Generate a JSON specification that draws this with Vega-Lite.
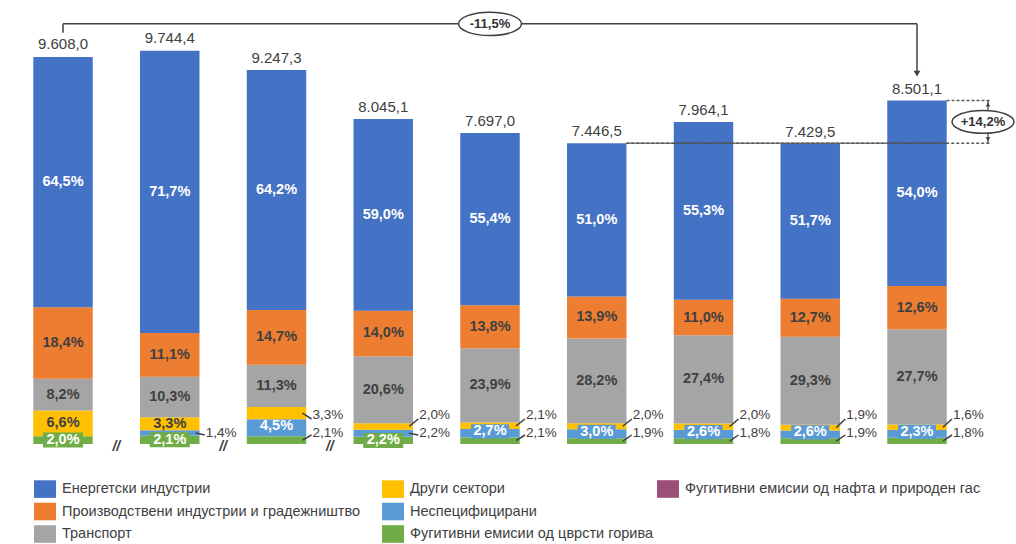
{
  "$schema": "https://vega.github.io/schema/vega-lite/v6.json",
  "width": 960,
  "height": 404,
  "autosize": {"type": "none"},
  "padding": {"left": 10, "top": 40, "right": 46, "bottom": 100},
  "background": "#ffffff",
  "config": {
    "font": "Liberation Sans",
    "view": {"stroke": null},
    "axis": {"title": null, "grid": false},
    "locale": {"number": {"decimal": ",", "thousands": ".", "grouping": [3], "currency": ["", ""]}}
  },
  "datasets": {
    "rows": [
      {"year": "1990", "sector": "Фугитивни емисии од цврсти горива", "value": 192.2, "pct": 0.020},
      {"year": "1990", "sector": "Неспецифицирани", "value": 0, "pct": 0},
      {"year": "1990", "sector": "Други сектори", "value": 634.1, "pct": 0.066},
      {"year": "1990", "sector": "Транспорт", "value": 787.9, "pct": 0.082},
      {"year": "1990", "sector": "Производствени индустрии и градежништво", "value": 1767.9, "pct": 0.184},
      {"year": "1990", "sector": "Енергетски индустрии", "value": 6197.2, "pct": 0.645},
      {"year": "1990", "sector": "Фугитивни емисии од нафта и природен гас", "value": 0, "pct": 0},
      {"year": "2000", "sector": "Фугитивни емисии од цврсти горива", "value": 204.6, "pct": 0.021},
      {"year": "2000", "sector": "Неспецифицирани", "value": 136.4, "pct": 0.014},
      {"year": "2000", "sector": "Други сектори", "value": 321.6, "pct": 0.033},
      {"year": "2000", "sector": "Транспорт", "value": 1003.7, "pct": 0.103},
      {"year": "2000", "sector": "Производствени индустрии и градежништво", "value": 1081.6, "pct": 0.111},
      {"year": "2000", "sector": "Енергетски индустрии", "value": 6986.7, "pct": 0.717},
      {"year": "2000", "sector": "Фугитивни емисии од нафта и природен гас", "value": 0, "pct": 0},
      {"year": "2005", "sector": "Фугитивни емисии од цврсти горива", "value": 194.2, "pct": 0.021},
      {"year": "2005", "sector": "Неспецифицирани", "value": 416.1, "pct": 0.045},
      {"year": "2005", "sector": "Други сектори", "value": 305.2, "pct": 0.033},
      {"year": "2005", "sector": "Транспорт", "value": 1044.9, "pct": 0.113},
      {"year": "2005", "sector": "Производствени индустрии и градежништво", "value": 1359.4, "pct": 0.147},
      {"year": "2005", "sector": "Енергетски индустрии", "value": 5936.8, "pct": 0.642},
      {"year": "2005", "sector": "Фугитивни емисии од нафта и природен гас", "value": 0, "pct": 0},
      {"year": "2014", "sector": "Фугитивни емисии од цврсти горива", "value": 177.0, "pct": 0.022},
      {"year": "2014", "sector": "Неспецифицирани", "value": 177.0, "pct": 0.022},
      {"year": "2014", "sector": "Други сектори", "value": 160.9, "pct": 0.020},
      {"year": "2014", "sector": "Транспорт", "value": 1657.3, "pct": 0.206},
      {"year": "2014", "sector": "Производствени индустрии и градежништво", "value": 1126.3, "pct": 0.140},
      {"year": "2014", "sector": "Енергетски индустрии", "value": 4746.6, "pct": 0.590},
      {"year": "2014", "sector": "Фугитивни емисии од нафта и природен гас", "value": 0, "pct": 0},
      {"year": "2015", "sector": "Фугитивни емисии од цврсти горива", "value": 161.6, "pct": 0.021},
      {"year": "2015", "sector": "Неспецифицирани", "value": 207.8, "pct": 0.027},
      {"year": "2015", "sector": "Други сектори", "value": 161.6, "pct": 0.021},
      {"year": "2015", "sector": "Транспорт", "value": 1839.6, "pct": 0.239},
      {"year": "2015", "sector": "Производствени индустрии и градежништво", "value": 1062.2, "pct": 0.138},
      {"year": "2015", "sector": "Енергетски индустрии", "value": 4264.1, "pct": 0.554},
      {"year": "2015", "sector": "Фугитивни емисии од нафта и природен гас", "value": 0, "pct": 0},
      {"year": "2016", "sector": "Фугитивни емисии од цврсти горива", "value": 141.5, "pct": 0.019},
      {"year": "2016", "sector": "Неспецифицирани", "value": 223.4, "pct": 0.030},
      {"year": "2016", "sector": "Други сектори", "value": 148.9, "pct": 0.020},
      {"year": "2016", "sector": "Транспорт", "value": 2099.9, "pct": 0.282},
      {"year": "2016", "sector": "Производствени индустрии и градежништво", "value": 1035.1, "pct": 0.139},
      {"year": "2016", "sector": "Енергетски индустрии", "value": 3797.7, "pct": 0.510},
      {"year": "2016", "sector": "Фугитивни емисии од нафта и природен гас", "value": 0, "pct": 0},
      {"year": "2017", "sector": "Фугитивни емисии од цврсти горива", "value": 143.4, "pct": 0.018},
      {"year": "2017", "sector": "Неспецифицирани", "value": 207.1, "pct": 0.026},
      {"year": "2017", "sector": "Други сектори", "value": 159.3, "pct": 0.020},
      {"year": "2017", "sector": "Транспорт", "value": 2182.2, "pct": 0.274},
      {"year": "2017", "sector": "Производствени индустрии и градежништво", "value": 876.1, "pct": 0.110},
      {"year": "2017", "sector": "Енергетски индустрии", "value": 4404.1, "pct": 0.553},
      {"year": "2017", "sector": "Фугитивни емисии од нафта и природен гас", "value": 0, "pct": 0},
      {"year": "2018", "sector": "Фугитивни емисии од цврсти горива", "value": 141.2, "pct": 0.019},
      {"year": "2018", "sector": "Неспецифицирани", "value": 193.2, "pct": 0.026},
      {"year": "2018", "sector": "Други сектори", "value": 141.2, "pct": 0.019},
      {"year": "2018", "sector": "Транспорт", "value": 2176.8, "pct": 0.293},
      {"year": "2018", "sector": "Производствени индустрии и градежништво", "value": 943.5, "pct": 0.127},
      {"year": "2018", "sector": "Енергетски индустрии", "value": 3841.0, "pct": 0.517},
      {"year": "2018", "sector": "Фугитивни емисии од нафта и природен гас", "value": 0, "pct": 0},
      {"year": "2019", "sector": "Фугитивни емисии од цврсти горива", "value": 153.0, "pct": 0.018},
      {"year": "2019", "sector": "Неспецифицирани", "value": 195.5, "pct": 0.023},
      {"year": "2019", "sector": "Други сектори", "value": 136.0, "pct": 0.016},
      {"year": "2019", "sector": "Транспорт", "value": 2354.8, "pct": 0.277},
      {"year": "2019", "sector": "Производствени индустрии и градежништво", "value": 1071.1, "pct": 0.126},
      {"year": "2019", "sector": "Енергетски индустрии", "value": 4590.6, "pct": 0.540},
      {"year": "2019", "sector": "Фугитивни емисии од нафта и природен гас", "value": 0, "pct": 0}
    ],
    "totals": [
      {"year": "1990", "total": 9608.0},
      {"year": "2000", "total": 9744.4},
      {"year": "2005", "total": 9247.3},
      {"year": "2014", "total": 8045.1},
      {"year": "2015", "total": 7697.0},
      {"year": "2016", "total": 7446.5},
      {"year": "2017", "total": 7964.1},
      {"year": "2018", "total": 7429.5},
      {"year": "2019", "total": 8501.1}
    ],
    "one": [{"k": 1}]
  },
  "layer": [
    {
      "data": {"name": "rows"},
      "transform": [
        {"stack": "value", "groupby": ["year"], "as": ["v0", "v1"]},
        {"calculate": "(datum.v0 + datum.v1) / 2", "as": "mid"}
      ],
      "layer": [
        {
          "mark": {"type": "bar"},
          "encoding": {
            "x": {
              "field": "year", "type": "ordinal",
              "scale": {"type": "band", "domain": ["1990", "2000", "2005", "2014", "2015", "2016", "2017", "2018", "2019"], "paddingInner": 0.443, "paddingOuter": 0.218},
              "axis": {"title": null, "labelAngle": 0, "ticks": false, "domainColor": "#404040", "domainWidth": 1.5, "labelFontSize": 14.5, "labelFontWeight": "bold", "labelColor": "#404040", "labelPadding": 11, "grid": false}
            },
            "y": {"field": "v0", "type": "quantitative", "scale": {"domain": [0, 10000], "nice": false}, "axis": null},
            "y2": {"field": "v1"},
            "color": {
              "field": "sector", "type": "nominal",
              "scale": {
                "domain": ["Енергетски индустрии", "Производствени индустрии и градежништво", "Транспорт", "Други сектори", "Неспецифицирани", "Фугитивни емисии од цврсти горива", "Фугитивни емисии од нафта и природен гас"],
                "range": ["#4472C4", "#ED7D31", "#A5A5A5", "#FFC000", "#5B9BD5", "#70AD47", "#9B4F76"]
              },
              "legend": {
                "orient": "none", "legendX": 24, "legendY": 438, "title": null, "padding": 0,
                "columns": 2, "columnPadding": 21, "rowPadding": 2.5,
                "values": ["Енергетски индустрии", "Производствени индустрии и градежништво", "Транспорт", "Други сектори", "Неспецифицирани", "Фугитивни емисии од цврсти горива"],
                "symbolType": "M-1,-0.8H1V0.8H-1Z", "symbolSize": 484, "symbolStrokeWidth": 0,
                "labelFontSize": 14.5, "labelColor": "#404040", "labelOffset": 6, "labelLimit": 400
              }
            }
          }
        },
        {
          "transform": [{"filter": "datum.sector == 'Фугитивни емисии од нафта и природен гас'"}],
          "mark": {"type": "bar"},
          "encoding": {
            "x": {"field": "year", "type": "ordinal", "axis": null},
            "y": {"field": "v0", "type": "quantitative", "axis": null},
            "y2": {"field": "v1"},
            "fill": {
              "field": "sector", "type": "nominal",
              "scale": {"range": ["#9B4F76"]},
              "legend": {
                "orient": "none", "legendX": 647, "legendY": 438, "title": null, "padding": 0,
                "symbolType": "M-1,-0.8H1V0.8H-1Z", "symbolSize": 484, "symbolStrokeWidth": 0,
                "labelFontSize": 14.5, "labelColor": "#404040", "labelOffset": 6, "labelLimit": 400
              }
            }
          }
        },
        {
          "transform": [{"filter": "datum.sector == 'Фугитивни емисии од цврсти горива' && indexof(['1990','2000','2014'], datum.year) >= 0"}],
          "mark": {"type": "point", "shape": "M-1,-0.375H1V0.375H-1Z", "size": 1600, "filled": true, "color": "#70AD47", "opacity": 1, "strokeWidth": 0},
          "encoding": {
            "x": {"field": "year", "type": "ordinal", "axis": null},
            "y": {"field": "mid", "type": "quantitative", "axis": null}
          }
        },
        {
          "transform": [{"filter": "datum.sector == 'Неспецифицирани' && indexof(['2015','2016','2017','2018','2019'], datum.year) >= 0"}],
          "mark": {"type": "point", "shape": "M-1,-0.375H1V0.375H-1Z", "size": 1444, "filled": true, "color": "#5B9BD5", "opacity": 1, "strokeWidth": 0, "yOffset": -2},
          "encoding": {
            "x": {"field": "year", "type": "ordinal", "axis": null},
            "y": {"field": "mid", "type": "quantitative", "axis": null}
          }
        },
        {
          "transform": [{"filter": "datum.sector == 'Енергетски индустрии' || (datum.sector == 'Фугитивни емисии од цврсти горива' && indexof(['1990','2000','2014'], datum.year) >= 0)"}],
          "mark": {"type": "text", "fontSize": 14.5, "fontWeight": "bold", "color": "#ffffff"},
          "encoding": {
            "x": {"field": "year", "type": "ordinal", "axis": null},
            "y": {"field": "mid", "type": "quantitative", "axis": null},
            "text": {"field": "pct", "type": "quantitative", "format": ".1%"}
          }
        },
        {
          "transform": [{"filter": "datum.sector == 'Неспецифицирани' && indexof(['2005','2015','2016','2017','2018','2019'], datum.year) >= 0"}],
          "mark": {"type": "text", "fontSize": 14.5, "fontWeight": "bold", "color": "#ffffff", "yOffset": -2},
          "encoding": {
            "x": {"field": "year", "type": "ordinal", "axis": null},
            "y": {"field": "mid", "type": "quantitative", "axis": null},
            "text": {"field": "pct", "type": "quantitative", "format": ".1%"}
          }
        },
        {
          "transform": [{"filter": "datum.sector == 'Производствени индустрии и градежништво' || datum.sector == 'Транспорт' || (datum.sector == 'Други сектори' && indexof(['1990','2000'], datum.year) >= 0)"}],
          "mark": {"type": "text", "fontSize": 14.5, "fontWeight": "bold", "color": "#404040"},
          "encoding": {
            "x": {"field": "year", "type": "ordinal", "axis": null},
            "y": {"field": "mid", "type": "quantitative", "axis": null},
            "text": {"field": "pct", "type": "quantitative", "format": ".1%"}
          }
        },
        {
          "transform": [{"filter": "datum.sector == 'Други сектори' && indexof(['1990','2000'], datum.year) < 0"}],
          "layer": [
            {
              "mark": {"type": "rule", "color": "#404040", "strokeWidth": 1.5, "xOffset": 26, "x2Offset": 35, "y2Offset": -25},
              "encoding": {
                "x": {"field": "year", "type": "ordinal", "axis": null},
                "x2": {"field": "year"},
                "y": {"field": "mid", "type": "quantitative", "axis": null},
                "y2": {"datum": 0}
              }
            },
            {
              "mark": {"type": "text", "fontSize": 13.5, "color": "#404040", "align": "left", "xOffset": 36, "yOffset": -29},
              "encoding": {
                "x": {"field": "year", "type": "ordinal", "axis": null},
                "y": {"datum": 0, "type": "quantitative", "axis": null},
                "text": {"field": "pct", "type": "quantitative", "format": ".1%"}
              }
            }
          ]
        },
        {
          "transform": [{"filter": "(datum.sector == 'Неспецифицирани' && indexof(['2000','2014'], datum.year) >= 0) || (datum.sector == 'Фугитивни емисии од цврсти горива' && indexof(['2005','2015','2016','2017','2018','2019'], datum.year) >= 0)"}],
          "layer": [
            {
              "mark": {"type": "rule", "color": "#404040", "strokeWidth": 1.5, "xOffset": 26, "x2Offset": 35, "y2Offset": -9},
              "encoding": {
                "x": {"field": "year", "type": "ordinal", "axis": null},
                "x2": {"field": "year"},
                "y": {"field": "mid", "type": "quantitative", "axis": null},
                "y2": {"datum": 0}
              }
            },
            {
              "mark": {"type": "text", "fontSize": 13.5, "color": "#404040", "align": "left", "xOffset": 36, "yOffset": -11},
              "encoding": {
                "x": {"field": "year", "type": "ordinal", "axis": null},
                "y": {"datum": 0, "type": "quantitative", "axis": null},
                "text": {"field": "pct", "type": "quantitative", "format": ".1%"}
              }
            }
          ]
        },
        {
          "transform": [{"filter": "datum.sector == 'Енергетски индустрии' && indexof(['2000','2005','2014'], datum.year) >= 0"}],
          "mark": {"type": "text", "text": "//", "fontSize": 14, "fontWeight": "bold", "fontStyle": "italic", "color": "#404040", "xOffset": -53.4, "yOffset": 3},
          "encoding": {
            "x": {"field": "year", "type": "ordinal", "axis": null},
            "y": {"datum": 0, "type": "quantitative", "axis": null}
          }
        }
      ]
    },
    {
      "data": {"name": "totals"},
      "mark": {"type": "text", "fontSize": 15, "color": "#404040", "yOffset": -12},
      "encoding": {
        "x": {"field": "year", "type": "ordinal", "axis": null},
        "y": {"field": "total", "type": "quantitative", "axis": null},
        "text": {"field": "total", "type": "quantitative", "format": ",.1f"}
      }
    },
    {
      "data": {"name": "one"},
      "layer": [
        {
          "mark": {"type": "rule", "color": "#404040", "strokeWidth": 1.5, "y2Offset": -23},
          "encoding": {
            "x": {"datum": "1990", "type": "ordinal", "axis": null},
            "y": {"datum": 10400, "type": "quantitative", "axis": null},
            "y2": {"datum": 9608}
          }
        },
        {
          "mark": {"type": "rule", "color": "#404040", "strokeWidth": 1.5},
          "encoding": {
            "x": {"datum": "1990", "type": "ordinal", "axis": null},
            "x2": {"datum": "2019"},
            "y": {"datum": 10400, "type": "quantitative", "axis": null}
          }
        },
        {
          "mark": {"type": "rule", "color": "#404040", "strokeWidth": 1.5, "y2Offset": -29},
          "encoding": {
            "x": {"datum": "2019", "type": "ordinal", "axis": null},
            "y": {"datum": 10400, "type": "quantitative", "axis": null},
            "y2": {"datum": 8501.1}
          }
        },
        {
          "mark": {"type": "point", "shape": "triangle-down", "size": 45, "filled": true, "color": "#404040", "opacity": 1, "yOffset": -27},
          "encoding": {
            "x": {"datum": "2019", "type": "ordinal", "axis": null},
            "y": {"datum": 8501.1, "type": "quantitative", "axis": null}
          }
        },
        {
          "mark": {"type": "point", "shape": "M-1,0A1,0.37,0,1,1,1,0A1,0.37,0,1,1,-1,0Z", "size": 3969, "filled": true, "fill": "#ffffff", "stroke": "#404040", "strokeWidth": 1.5, "opacity": 1},
          "encoding": {
            "x": {"datum": "2015", "type": "ordinal", "axis": null},
            "y": {"datum": 10400, "type": "quantitative", "axis": null}
          }
        },
        {
          "mark": {"type": "text", "text": "-11,5%", "fontSize": 13, "fontWeight": "bold", "color": "#333333"},
          "encoding": {
            "x": {"datum": "2015", "type": "ordinal", "axis": null},
            "y": {"datum": 10400, "type": "quantitative", "axis": null}
          }
        },
        {
          "mark": {"type": "rule", "color": "#404040", "strokeWidth": 1, "xOffset": 29.5, "x2Offset": 29.5},
          "encoding": {
            "x": {"datum": "2016", "type": "ordinal", "axis": null},
            "x2": {"datum": "2019"},
            "y": {"datum": 7446.5, "type": "quantitative", "axis": null}
          }
        },
        {
          "mark": {"type": "rule", "color": "#595959", "strokeWidth": 1.5, "strokeDash": [3, 2], "xOffset": 29.5, "x2Offset": 73},
          "encoding": {
            "x": {"datum": "2016", "type": "ordinal", "axis": null},
            "x2": {"datum": "2019"},
            "y": {"datum": 7446.5, "type": "quantitative", "axis": null}
          }
        },
        {
          "mark": {"type": "rule", "color": "#595959", "strokeWidth": 1.5, "strokeDash": [3, 2], "xOffset": 29.5, "x2Offset": 73},
          "encoding": {
            "x": {"datum": "2019", "type": "ordinal", "axis": null},
            "x2": {"datum": "2019"},
            "y": {"datum": 8501.1, "type": "quantitative", "axis": null}
          }
        },
        {
          "mark": {"type": "rule", "color": "#404040", "strokeWidth": 1.2, "xOffset": 71},
          "encoding": {
            "x": {"datum": "2019", "type": "ordinal", "axis": null},
            "y": {"datum": 8501.1, "type": "quantitative", "axis": null},
            "y2": {"datum": 7446.5}
          }
        },
        {
          "mark": {"type": "point", "shape": "triangle-up", "size": 22, "filled": true, "color": "#404040", "opacity": 1, "xOffset": 71, "yOffset": 4},
          "encoding": {
            "x": {"datum": "2019", "type": "ordinal", "axis": null},
            "y": {"datum": 8501.1, "type": "quantitative", "axis": null}
          }
        },
        {
          "mark": {"type": "point", "shape": "triangle-down", "size": 22, "filled": true, "color": "#404040", "opacity": 1, "xOffset": 71, "yOffset": -4},
          "encoding": {
            "x": {"datum": "2019", "type": "ordinal", "axis": null},
            "y": {"datum": 7446.5, "type": "quantitative", "axis": null}
          }
        },
        {
          "mark": {"type": "point", "shape": "M-1,0A1,0.37,0,1,1,1,0A1,0.37,0,1,1,-1,0Z", "size": 3844, "filled": true, "fill": "#ffffff", "stroke": "#404040", "strokeWidth": 1.5, "opacity": 1, "xOffset": 66},
          "encoding": {
            "x": {"datum": "2019", "type": "ordinal", "axis": null},
            "y": {"datum": 7974, "type": "quantitative", "axis": null}
          }
        },
        {
          "mark": {"type": "text", "text": "+14,2%", "fontSize": 13, "fontWeight": "bold", "color": "#333333", "xOffset": 66},
          "encoding": {
            "x": {"datum": "2019", "type": "ordinal", "axis": null},
            "y": {"datum": 7974, "type": "quantitative", "axis": null}
          }
        }
      ]
    }
  ]
}
